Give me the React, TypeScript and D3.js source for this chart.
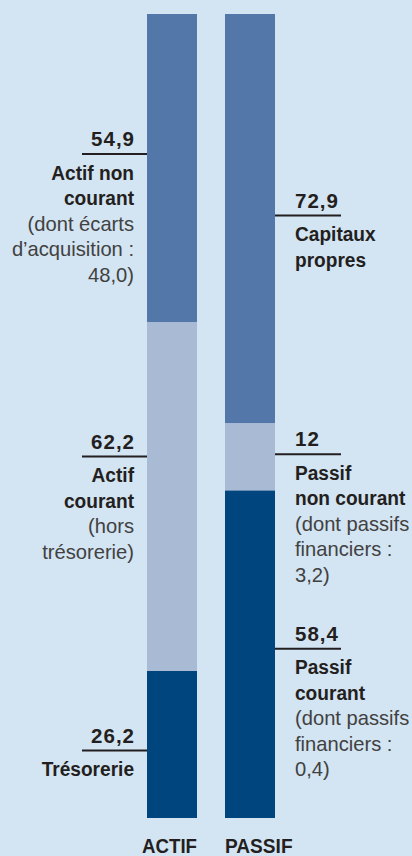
import React from "react";
import * as d3 from "d3";

const columns = ["ACTIF", "PASSIF"];
const actifValues = [26.2, 62.2, 54.9];
const passifValues = [58.4, 12, 72.9];
const actifValueLabels = ["26,2", "62,2", "54,9"];
const passifValueLabels = ["58,4", "12", "72,9"];
const actifBold = [["Trésorerie"], ["Actif", "courant"], ["Actif non", "courant"]];
const actifLight = [[], ["(hors", "trésorerie)"], ["(dont écarts", "d’acquisition :", "48,0)"]];
const passifBold = [["Passif", "courant"], ["Passif", "non courant"], ["Capitaux", "propres"]];
const passifLight = [["(dont passifs", "financiers :", "0,4)"], ["(dont passifs", "financiers :", "3,2)"], []];

const W = 412;
const H = 856;
const COLORS = ["#00457e", "#a9bad5", "#5277a8"];
const BG = "#d3e4f2";
// vertical nudge of each leader line relative to its segment centre (layout)
const actifShift = [6, -40, -14];
const passifShift = [-5.5, -2.5, -3];

type TProps = { x: number; y: number; anchor: string; size: number; bold: boolean; sx: number; fill: string; ls?: number; children: React.ReactNode };
function CText({ x, y, anchor, size, bold, sx, fill, ls, children }: TProps) {
  return (
    <text
      transform={`translate(${x},${y}) scale(${sx},1)`}
      textAnchor={anchor}
      fontSize={size}
      fontWeight={bold ? "bold" : "normal"}
      fill={fill}
      letterSpacing={ls ?? 0}
    >
      {children}
    </text>
  );
}

export default function App() {
  const total = d3.sum(actifValues);
  const y = d3.scaleLinear().domain([0, total]).range([818, 14]);
  const x = d3.scaleBand<string>().domain(columns).range([147, 275]).paddingInner(28 / 78).paddingOuter(0);
  const bw = x.bandwidth();

  const stackOf = (vals: number[]) => {
    let acc = 0;
    return vals.map((v) => {
      const s = { y0: acc, y1: acc + v };
      acc += v;
      return s;
    });
  };
  const series = [
    { col: "ACTIF", segs: stackOf(actifValues), vlab: actifValueLabels, bold: actifBold, light: actifLight, shift: actifShift, side: "left" },
    { col: "PASSIF", segs: stackOf(passifValues), vlab: passifValueLabels, bold: passifBold, light: passifLight, shift: passifShift, side: "right" },
  ];
  const font = "'Liberation Sans', Arial, Helvetica, sans-serif";
  const lh = 25.5;
  const dark = "#231f20";

  return (
    <svg width={W} height={H} style={{ position: "fixed", left: 0, top: 0, display: "block" }} fontFamily={font}>
      <rect x={0} y={0} width={W} height={H} fill={BG} />
      {series.map((s) => {
        const bx = x(s.col)!;
        const left = s.side === "left";
        return (
          <g key={s.col}>
            {s.segs.map((seg, i) => (
              <rect key={i} x={bx} y={y(seg.y1)} width={bw} height={y(seg.y0) - y(seg.y1)} fill={COLORS[i]} />
            ))}
            {s.segs.map((seg, i) => {
              const ly = (y(seg.y0) + y(seg.y1)) / 2 + s.shift[i];
              const x1 = left ? bx - 65 : bx + bw;
              const x2 = left ? bx : bx + bw + 66;
              const tx = left ? bx - 13 : bx + bw + 20;
              const anchor = left ? "end" : "start";
              const lines = [
                ...s.bold[i].map((t) => ({ t, b: true })),
                ...s.light[i].map((t) => ({ t, b: false })),
              ];
              return (
                <g key={"l" + i}>
                  <line x1={x1} x2={x2} y1={ly} y2={ly} stroke={dark} strokeWidth={2} />
                  <CText x={left ? tx + 1 : tx} y={ly - 8} anchor={anchor} size={20.5} bold={true} sx={1} fill={dark} ls={1}>
                    {s.vlab[i]}
                  </CText>
                  {lines.map((ln, j) => (
                    <CText
                      key={j}
                      x={tx}
                      y={ly + 25.5 + j * lh}
                      anchor={anchor}
                      size={21}
                      bold={ln.b}
                      sx={ln.b ? 0.91 : 0.96}
                      fill={ln.b ? dark : "#414141"}
                    >
                      {ln.t}
                    </CText>
                  ))}
                </g>
              );
            })}
            <CText x={left ? bx + bw : bx} y={853} anchor={left ? "end" : "start"} size={21} bold={true} sx={left ? 0.89 : 0.91} fill={dark}>
              {s.col}
            </CText>
          </g>
        );
      })}
    </svg>
  );
}
